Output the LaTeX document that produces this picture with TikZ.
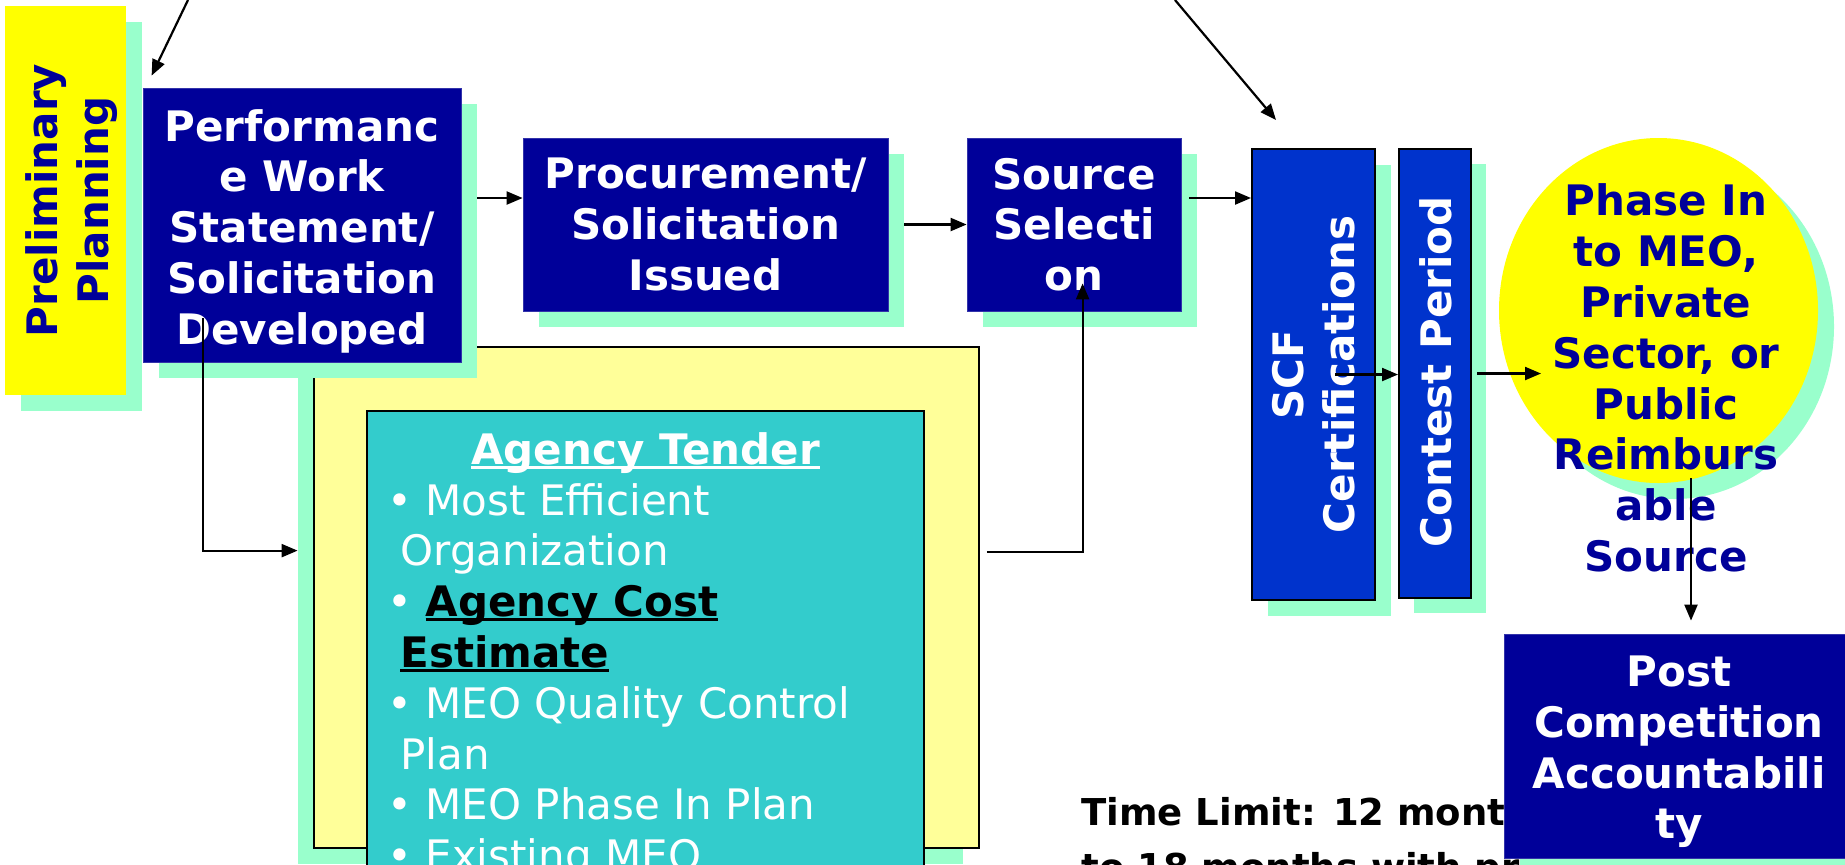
\documentclass[tikz,border=0pt]{standalone}
\usepackage{fontspec}
\setmainfont{DejaVu Sans}
\usetikzlibrary{arrows.meta,calc,shapes.geometric}

\definecolor{navy}{HTML}{000099}
\definecolor{royal}{HTML}{0033CC}
\definecolor{mint}{HTML}{99FFCC}
\definecolor{lemon}{HTML}{FFFF00}
\definecolor{cream}{HTML}{FFFF99}
\definecolor{tealfill}{HTML}{33CCCC}
\definecolor{edgeblue}{HTML}{3333AA}

% underline drawn just below the baseline, in the current colour
\newcommand\undl[1]{\setbox0=\hbox{#1}\leavevmode\rlap{\rule[-0.11em]{\wd0}{0.07em}}\box0}

\tikzset{
  bigtext/.style={font=\fontsize{21pt}{25.4pt}\selectfont\bfseries},
  mintshadow/.style={fill=mint, draw=none, inner sep=0pt},
  navybox/.style={fill=navy, draw=edgeblue, line width=0.4pt, inner sep=0pt,
                  text=white, align=center, bigtext},
  boxlabel/.style={bigtext, text=white, align=center, inner sep=0pt},
  royalbox/.style={fill=royal, draw=black, line width=1pt, inner sep=0pt},
  conn/.style={draw=black, line width=1.1pt, -{Triangle[length=8pt,width=6.5pt]}},
}

\begin{document}
\begin{tikzpicture}[x=0.5pt,y=-0.5pt]
\useasboundingbox (0,0) rectangle (1845,864);
\clip (0,0) rectangle (1845,864);

% preliminary planning
\node[mintshadow, minimum width=60.5pt, minimum height=194.5pt] (prelimS) at (81.5,216.5) {};
\node[fill=lemon, inner sep=0pt, minimum width=60.5pt, minimum height=194.5pt] (prelim) at (65.5,200.5) {};
\node[bigtext, text=navy, rotate=90, align=center, inner sep=0pt] (prelimtext) at (71.5,200.5) {Preliminary\\Planning};

% agency tender container
\node[mintshadow, minimum width=332.5pt, minimum height=250.5pt] (agencyS) at (630.5,613.5) {};
\node[fill=cream, draw=black, line width=0.8pt, inner sep=0pt, minimum width=332.5pt, minimum height=250.5pt] (agency) at (646.5,597.5) {};
\node[fill=tealfill, draw=black, line width=0.8pt, inner sep=0pt, minimum width=278.5pt, minimum height=244.5pt] (tender) at (645.5,655.5) {};
\node[bigtext, text=white, anchor=base, inner sep=0pt] (tendertitle) at (645.5,464) {\undl{Agency Tender}};
% the base anchor of a multi-line node sits on its last line
\node[font=\fontsize{21pt}{25.4pt}\selectfont, text=white, align=left, anchor=base west, inner sep=0pt] (tenderlist) at (387,870.6)
  {\textbullet\ Most Efficient\\
   \hspace*{6.5pt}Organization\\
   \textbullet\ {\color{black}\bfseries\undl{Agency Cost}}\\
   \hspace*{6.5pt}{\color{black}\bfseries\undl{Estimate}}\\
   \textbullet\ MEO Quality Control\\
   \hspace*{6.5pt}Plan\\
   \textbullet\ MEO Phase In Plan\\
   \textbullet\ Existing MEO};

% performance work statement
\node[mintshadow, minimum width=159pt, minimum height=137pt] (pwsS) at (318,241) {};
\node[navybox, minimum width=159pt, minimum height=137pt] (pws) at (302,225) {};
\node[boxlabel] (pwstext) at (302,231) {Performanc\\e Work\\Statement/\\Solicitation\\Developed};

% procurement
\node[mintshadow, minimum width=182.5pt, minimum height=86.5pt] (procS) at (721.5,240.5) {};
\node[navybox, minimum width=182.5pt, minimum height=86.5pt] (proc) at (705.5,224.5) {Procurement/\\Solicitation\\Issued};

% source selection
\node[mintshadow, minimum width=107pt, minimum height=86.5pt] (srcS) at (1090,240.5) {};
\node[navybox, minimum width=107pt, minimum height=86.5pt] (src) at (1074,224.5) {Source\\Selecti\\on};

% SCF certifications
\node[mintshadow, minimum width=61.5pt, minimum height=225.5pt] (scfS) at (1329,390) {};
\node[royalbox, minimum width=61.5pt, minimum height=225.5pt] (scf) at (1313.5,374.5) {};
\node[bigtext, text=white, rotate=90, align=center, inner sep=0pt] (scftext) at (1314,374.5) {SCF\\Certifications};

% contest period
\node[mintshadow, minimum width=36pt, minimum height=224.5pt] (contestS) at (1450,388.5) {};
\node[royalbox, minimum width=36pt, minimum height=224.5pt] (contest) at (1435,373.5) {};
\node[bigtext, text=white, rotate=90, align=center, inner sep=0pt] (contesttext) at (1436,372) {Contest Period};

% phase-in ellipse
\node[ellipse, mintshadow, minimum width=159.5pt, minimum height=172.5pt] (phaseS) at (1674.5,326.5) {};
\node[ellipse, fill=lemon, inner sep=0pt, minimum width=159.5pt, minimum height=172.5pt] (phase) at (1658.5,310.5) {};
\node[bigtext, text=navy, align=center, inner sep=0pt] (phasetext) at (1666,378)
  {Phase In\\to MEO,\\Private\\Sector, or\\Public\\Reimburs\\able\\Source};

% time limit note (partly under the accountability box)
\node[font=\fontsize{18.5pt}{27.5pt}\selectfont\bfseries, align=left, anchor=base west, inner sep=0pt] (timelimit) at (1081,880)
  {Time Limit: 12 months\\to 18 months with prior approval};

% post competition accountability
\node[mintshadow, minimum width=175pt, minimum height=112pt] (postS) at (1695,762) {};
\node[navybox, minimum width=175pt, minimum height=112pt] (post) at (1679,746) {};
\node[boxlabel] (posttext) at (1679,752) {Post\\Competition\\Accountabili\\ty};

% connectors
\coordinate (topleftA) at (188,0);
\coordinate (toprightA) at (1175,0);
\draw[conn] (topleftA) -- ($(pws.north west)+(9,-12)$);
\draw[conn] (toprightA) -- ($(scf.north west)+(25,-28)$);
\draw[conn] ($(pwsS.east)+(0,-43)$) -- (proc.west |- {$(pwsS.east)+(0,-43)$});
\draw[conn] (procS.east |- proc.center) -- (src.west);
\draw[conn] ($(src.east)+(8,-26.5)$) -- (scf.west |- {$(src.east)+(8,-26.5)$});
\draw[conn] ($(scf.east)+(-41,0)$) -- (contest.west |- scf.east);
\draw[conn] ($(contest.east)+(5,0)$) -- ($(contest.east)+(69,0)$);
\draw[conn] ($(phase.south)+(32.5,-5)$) -- ($(post.north)+(12,-13)$);
\draw[conn] ($(pws.south west)+(60,-44)$) |- ($(agencyS.north west)+(0,188)$);
\draw[conn] ($(agency.north east)+(7,206)$) -| ($(src.south west)+(116,-28)$);
\end{tikzpicture}
\end{document}
